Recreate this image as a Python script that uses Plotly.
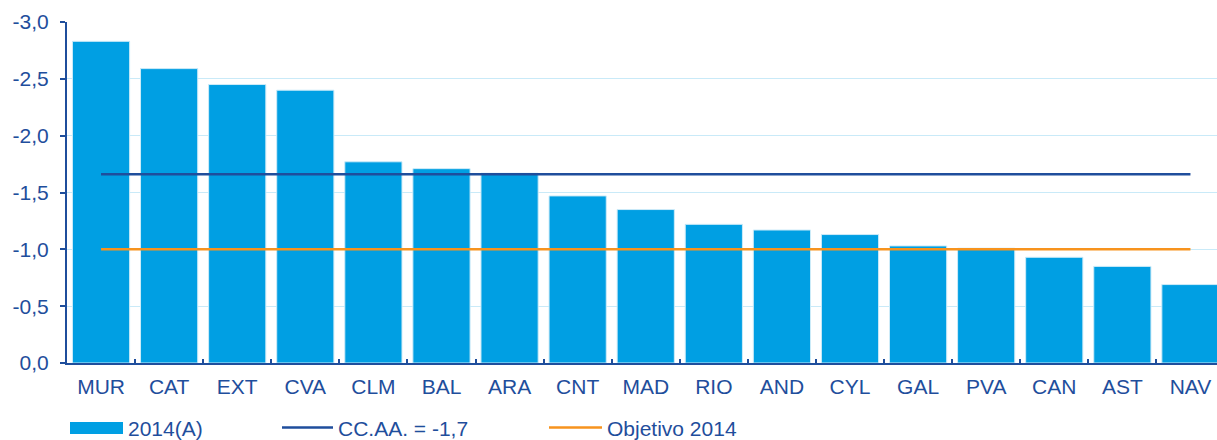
import plotly.graph_objects as go

# Data
regions = ['MUR', 'CAT', 'EXT', 'CVA', 'CLM', 'BAL', 'ARA', 'CNT', 'MAD',
           'RIO', 'AND', 'CYL', 'GAL', 'PVA', 'CAN', 'AST', 'NAV']
deficit_2014 = [-2.83, -2.59, -2.45, -2.40, -1.77, -1.71, -1.67, -1.47, -1.35,
                -1.22, -1.17, -1.13, -1.03, -1.01, -0.93, -0.85, -0.69]
ccaa_total = -1.66
objetivo_2014 = -1.0

y_tickvals = [0, -0.5, -1.0, -1.5, -2.0, -2.5, -3.0]
y_ticktext = ['0,0', '-0,5', '-1,0', '-1,5', '-2,0', '-2,5', '-3,0']

BLUE = '#009FE3'
DARK = '#1F4E9C'
ORANGE = '#F7931E'
FONT = 'Liberation Sans, Arial, sans-serif'
FS = 21

fig = go.Figure()

fig.add_trace(
    go.Bar(
        x=regions, y=deficit_2014,
        name='2014(A)',
        marker={'color': BLUE, 'line': {'color': '#CDEBF8', 'width': 1}},
        width=0.84,
        )
    )

fig.add_trace(
    go.Scatter(
        x=[regions[0], regions[-1]], y=[ccaa_total, ccaa_total],
        name='CC.AA. = -1,7', mode='lines',
        line={'color': DARK, 'width': 2.5},
        )
    )

fig.add_trace(
    go.Scatter(
        x=[regions[0], regions[-1]], y=[objetivo_2014, objetivo_2014],
        name='Objetivo 2014', mode='lines',
        line={'color': ORANGE, 'width': 2.5},
        )
    )

fig.update_layout(
    width=1217, height=440,
    paper_bgcolor='white', plot_bgcolor='white',
    font={'family': FONT, 'color': DARK, 'size': FS},
    showlegend=False,
    margin={'l': 67, 'r': 0, 't': 22, 'b': 77},
    xaxis={'range': [-0.5, 16.39], 'showline': True, 'linecolor': DARK, 'linewidth': 2,
           'ticks': 'inside', 'tickson': 'boundaries', 'ticklen': 4, 'tickcolor': DARK,
           'tickwidth': 1.5, 'tickfont': {'size': FS, 'color': DARK}, 'showgrid': False,
           'ticklabelstandoff': 4, 'automargin': False},
    yaxis={'range': [0, -3], 'tickvals': y_tickvals, 'ticktext': y_ticktext,
           'showline': True, 'linecolor': DARK, 'linewidth': 2, 'ticks': 'outside',
           'ticklen': 5, 'tickcolor': DARK, 'tickwidth': 1.5, 'gridcolor': '#C9EAF8',
           'gridwidth': 1, 'zeroline': False, 'tickfont': {'size': FS, 'color': DARK},
           'ticklabelstandoff': 7, 'automargin': False},
)

# legend drawn below the plot, laid out like the original (pixel positions)
legend_items = [
    ('rect', BLUE, 70, 123, '2014(A)'),
    ('line', DARK, 282, 333, 'CC.AA. = -1,7'),
    ('line', ORANGE, 549, 602, 'Objetivo 2014'),
]
for kind, color, x0, x1, label in legend_items:
    if kind == 'rect':
        fig.add_shape(type='rect', xref='paper', yref='paper',
                      x0=(x0 - 67) / 1150, x1=(x1 - 67) / 1150,
                      y0=(363 - 434) / 341, y1=(363 - 422) / 341,
                      fillcolor=color, line={'width': 0})
    else:
        fig.add_shape(type='line', xref='paper', yref='paper',
                      x0=(x0 - 67) / 1150, x1=(x1 - 67) / 1150,
                      y0=(363 - 427.5) / 341, y1=(363 - 427.5) / 341,
                      line={'color': color, 'width': 2.5})
    fig.add_annotation(text=label, xref='paper', yref='paper',
                       x=(x1 + 4 - 67) / 1150, y=(363 - 428) / 341,
                       xanchor='left', yanchor='middle', showarrow=False,
                       borderpad=0, font={'size': FS, 'color': DARK})

fig.write_html('out.html', config={'displayModeBar': False},
               post_script="document.body.style.margin='0';")
